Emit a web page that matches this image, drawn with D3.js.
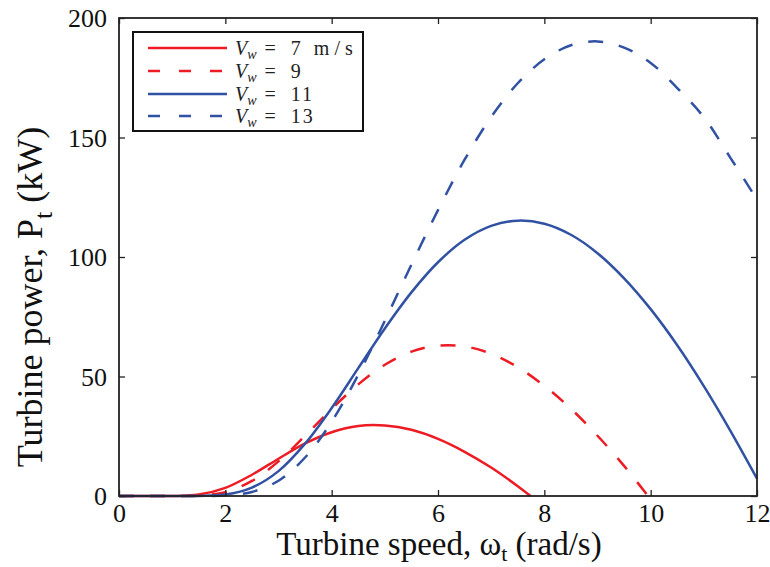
<!DOCTYPE html>
<html><head><meta charset="utf-8">
<script src="https://cdn.jsdelivr.net/npm/d3@7"></script>
<style>
body{margin:0;background:#fff;}
svg{display:block;}
</style></head>
<body><svg id="chart" width="770" height="567"></svg>
<script>
// ---- data ----
const omega7  = [0,0.5,1,1.5,2,2.5,3,3.5,4,4.5,5,5.5,6,6.5,7,7.5,7.74];
const power7  = [0,0,0,0.6,3.4,8.9,15.6,22.0,26.7,29.3,29.5,27.7,23.9,18.5,11.9,4.1,0];
const omega9  = [0,0.5,1,1.5,2,2.5,3,3.5,4,4.5,5,5.5,6,6.5,7,7.5,8,8.5,9,9.5,9.95];
const power9  = [0,0,0,0.15,1.6,6.3,14.5,25.2,36.4,46.7,54.9,60.4,62.9,62.6,59.5,53.9,46.1,36.5,25.2,12.6,0];
const omega11 = [0,0.5,1,1.5,2,2.5,3,3.5,4,4.5,5,5.5,6,6.5,7,7.5,8,8.5,9,9.5,10,10.5,11,11.5,12];
const power11 = [0,0,0,0.05,0.6,3.5,10.4,21.9,36.8,53.5,70.1,85.2,97.8,107.2,113.0,115.2,113.9,109.3,101.6,91.1,78.2,63.1,46.0,27.3,7.3];
const omega13 = [0,0.5,1,1.5,2,2.5,3,3.5,4,4.5,5,5.5,6,6.5,7,7.5,8,8.5,9,9.5,10,10.5,11,11.5,12];
const power13 = [0,0,0,0,0.2,1.7,6.4,16.1,31.1,50.7,73.3,96.8,119.6,140.7,158.6,172.7,182.7,188.6,190.2,187.6,181.2,170.7,158.5,141.5,124];
const windSpeeds = ["7","9","11","13"];
const legendUnits = ["m/s","","",""];
const xTicks = [0,2,4,6,8,10,12];
const yTicks = [0,50,100,150,200];

// ---- layout ----
const FONT = "'Liberation Serif', 'Times New Roman', Times, 'DejaVu Serif', serif";
const svg = d3.select("#chart");
const L = 119, R = 757, T = 18, B = 496;
const x = d3.scaleLinear().domain([0,12]).range([L,R]);
const y = d3.scaleLinear().domain([0,200]).range([B,T]);

const RED = "#ed1c24", BLUE = "#3152a3";
const series = [
  {om: omega7,  p: power7,  color: RED,  dash: null},
  {om: omega9,  p: power9,  color: RED,  dash: "15,16"},
  {om: omega11, p: power11, color: BLUE, dash: null},
  {om: omega13, p: power13, color: BLUE, dash: "15,16"}
];

const line = d3.line().x(d => x(d[0])).y(d => y(d[1])).curve(d3.curveCatmullRom.alpha(0.5));

series.forEach(s => {
  svg.append("path")
    .datum(s.om.map((o,i) => [o, s.p[i]]))
    .attr("d", line)
    .attr("fill","none")
    .attr("stroke", s.color)
    .attr("stroke-width", 2.5)
    .attr("stroke-dasharray", s.dash);
});

// ---- axes (box with inward ticks on all sides) ----
const tickLen = 6;
const axB = d3.axisBottom(x).tickValues(xTicks).tickSizeInner(-tickLen).tickSizeOuter(0).tickPadding(10).tickFormat(d3.format("d"));
const axT = d3.axisTop(x).tickValues(xTicks).tickSizeInner(-tickLen).tickSizeOuter(0).tickFormat("");
const axLf = d3.axisLeft(y).tickValues(yTicks).tickSizeInner(-tickLen).tickSizeOuter(0).tickPadding(12).tickFormat(d3.format("d"));
const axRt = d3.axisRight(y).tickValues(yTicks).tickSizeInner(-tickLen).tickSizeOuter(0).tickFormat("");

function style(g){
  g.attr("font-family", null).attr("font-size", null);
  g.select(".domain").remove();
  g.selectAll(".tick line").attr("stroke","#222").attr("stroke-width",1.3);
  g.selectAll(".tick text").style("font-family",FONT).style("font-size","26px").attr("fill","#111");
}
svg.append("g").attr("transform",`translate(0,${B})`).call(axB).call(style)
  .selectAll(".tick text").attr("dy","0.6em");
svg.append("g").attr("transform",`translate(0,${T})`).call(axT).call(style);
svg.append("g").attr("transform",`translate(${L},0)`).call(axLf).call(style)
  .selectAll(".tick text").attr("dy","0.34em");
svg.append("g").attr("transform",`translate(${R},0)`).call(axRt).call(style);

svg.append("rect").attr("x",L).attr("y",T).attr("width",R-L).attr("height",B-T)
  .attr("fill","none").attr("stroke","#222").attr("stroke-width",1.8);

// ---- axis labels ----
const xl = svg.append("text").attr("x", (L+R)/2 + 1).attr("y", 555)
  .attr("text-anchor","middle").style("font-family",FONT).style("font-size","33px").attr("fill","#111");
xl.append("tspan").text("Turbine speed, ω");
xl.append("tspan").style("font-size","22px").attr("dy",6).text("t");
xl.append("tspan").attr("dy",-6).text(" (rad/s)");

const yl = svg.append("text").attr("transform","translate(42,297) rotate(-90)")
  .attr("text-anchor","middle").style("font-family",FONT).style("font-size","36px").attr("fill","#111");
yl.append("tspan").text("Turbine power, P");
yl.append("tspan").style("font-size","26px").attr("dy",10).text("t");
yl.append("tspan").attr("dy",-10).text(" (kW)");

// ---- legend ----
const lg = svg.append("g");
lg.append("rect").attr("x",133).attr("y",32).attr("width",230).attr("height",99)
  .attr("fill","#fff").attr("stroke","#111").attr("stroke-width",2);
const rowY = [48,71,94,116];
series.forEach((s,i) => {
  lg.append("line").attr("x1",148).attr("x2",227).attr("y1",rowY[i]).attr("y2",rowY[i])
    .attr("stroke",s.color).attr("stroke-width",2.5).attr("stroke-dasharray", s.dash ? "12,19" : null);
  const t = lg.append("text").attr("x",235).attr("y",rowY[i]+7)
    .style("font-family",FONT).style("font-size","20px").attr("fill","#222");
  t.append("tspan").style("font-style","italic").text("V");
  t.append("tspan").style("font-style","italic").style("font-size","14px").attr("dy",4).text("w");
  t.append("tspan").attr("dy",-4).attr("dx",8).text("=");
  t.append("tspan").attr("dx",15).style("letter-spacing","2px").text(windSpeeds[i]);
  if (legendUnits[i]) t.append("tspan").attr("dx",11).style("letter-spacing","5px").text(legendUnits[i]);
});
</script>
</body></html>
